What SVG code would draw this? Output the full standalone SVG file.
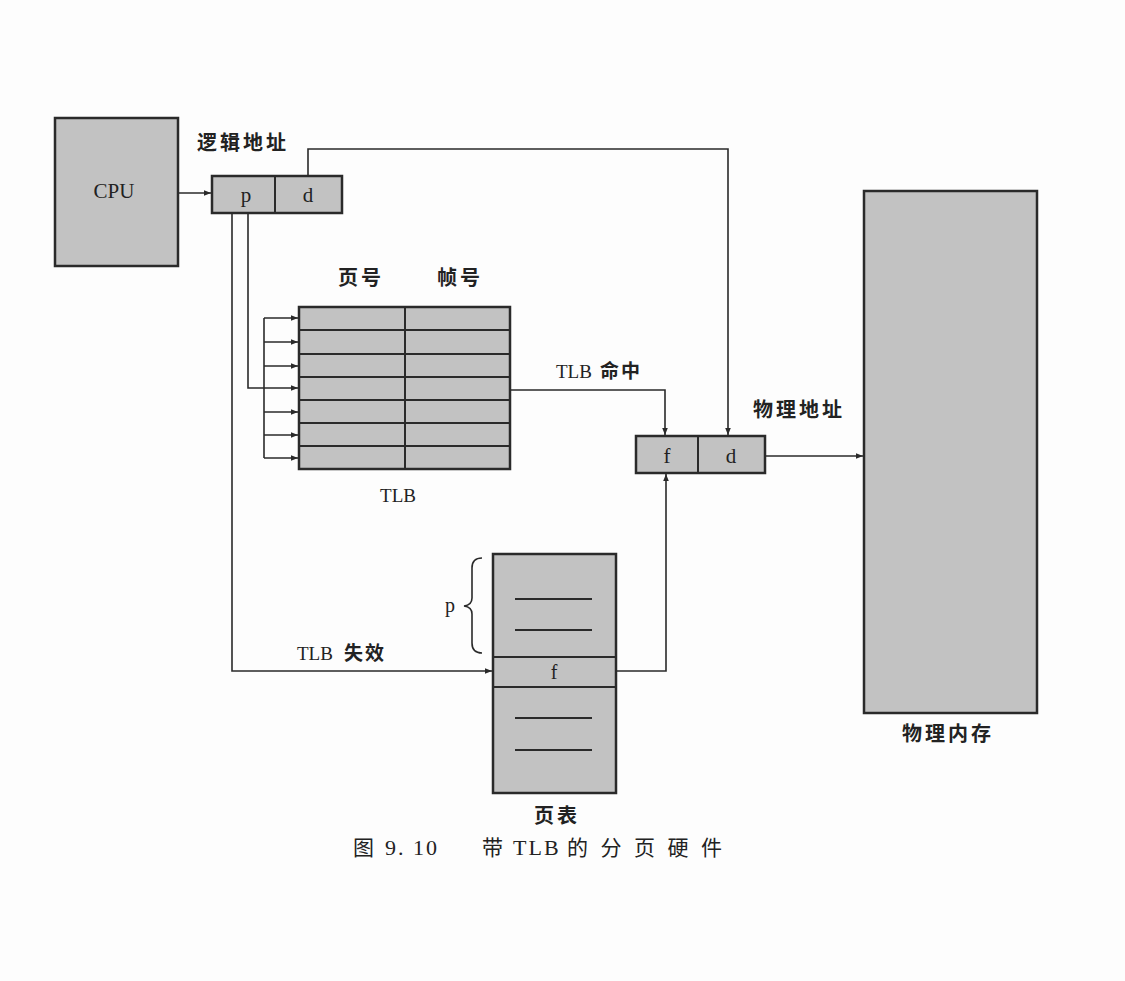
<svg xmlns="http://www.w3.org/2000/svg" width="1125" height="981" viewBox="0 0 1125 981">
<defs>
<style>
.box{fill:#c2c2c2;stroke:#2a2a2a;stroke-width:2.5}
.ln{fill:none;stroke:#2a2a2a;stroke-width:1.6}
.row{stroke:#2a2a2a;stroke-width:2}
.dash{stroke:#2a2a2a;stroke-width:2}
.t{font-family:"Liberation Serif","Noto Sans CJK SC",serif;fill:#222}
.z{font-family:"Noto Sans CJK SC","Liberation Serif",sans-serif;fill:#222;font-weight:bold;font-size:20px;letter-spacing:3px}
.c{font-family:"Noto Sans CJK SC","Liberation Serif",sans-serif;fill:#222;font-size:21px}
</style>
<marker id="ah" viewBox="0 0 10 10" refX="10" refY="5" markerWidth="9" markerHeight="7" markerUnits="userSpaceOnUse" orient="auto">
<path d="M0,1 L10,5 L0,9 z" fill="#2a2a2a"/>
</marker>
</defs>
<rect width="1125" height="981" fill="#fdfdfd"/>

<g id="cpu">
<rect class="box" x="55" y="118" width="123" height="148"/>
<text class="t" x="114" y="198" font-size="21" text-anchor="middle">CPU</text>
</g>

<g id="logical-address">
<text class="z" x="197" y="150">逻辑地址</text>
<rect class="box" x="212" y="176" width="130" height="37"/>
<line class="row" x1="275" y1="176" x2="275" y2="213"/>
<text class="t" x="246" y="202" font-size="21" text-anchor="middle">p</text>
<text class="t" x="308" y="202" font-size="21" text-anchor="middle">d</text>
</g>

<g id="tlb">
<text class="z" x="338" y="285">页号</text>
<text class="z" x="437" y="285">帧号</text>
<rect class="box" x="299" y="307" width="211" height="162"/>
<line class="row" x1="405" y1="307" x2="405" y2="469"/>
<line class="row" x1="299" y1="330" x2="510" y2="330"/>
<line class="row" x1="299" y1="354" x2="510" y2="354"/>
<line class="row" x1="299" y1="377" x2="510" y2="377"/>
<line class="row" x1="299" y1="400" x2="510" y2="400"/>
<line class="row" x1="299" y1="423" x2="510" y2="423"/>
<line class="row" x1="299" y1="446" x2="510" y2="446"/>
<text class="t" x="398" y="502" font-size="19" text-anchor="middle">TLB</text>
</g>

<g id="physical-address">
<text class="z" x="753" y="417">物理地址</text>
<rect class="box" x="636" y="436" width="129" height="37"/>
<line class="row" x1="698" y1="436" x2="698" y2="473"/>
<text class="t" x="667" y="463" font-size="21" text-anchor="middle">f</text>
<text class="t" x="731" y="463" font-size="21" text-anchor="middle">d</text>
</g>

<g id="page-table">
<rect class="box" x="493" y="554" width="123" height="239"/>
<line class="row" x1="493" y1="657" x2="616" y2="657"/>
<line class="row" x1="493" y1="687" x2="616" y2="687"/>
<line class="dash" x1="515" y1="599" x2="592" y2="599"/>
<line class="dash" x1="515" y1="630" x2="592" y2="630"/>
<line class="dash" x1="515" y1="718" x2="592" y2="718"/>
<line class="dash" x1="515" y1="750" x2="592" y2="750"/>
<text class="t" x="554" y="679" font-size="20" text-anchor="middle">f</text>
<path class="ln" d="M482,558 Q472,558 472,568 L472,598 Q472,605 464,606 Q472,607 472,614 L472,643 Q472,653 482,653"/>
<text class="t" x="450" y="612" font-size="20" text-anchor="middle">p</text>
<text class="z" x="534" y="823">页表</text>
</g>

<g id="physical-memory">
<rect class="box" x="864" y="191" width="173" height="522"/>
<text class="z" x="902" y="741">物理内存</text>
</g>

<g id="connectors">
<line class="ln" x1="178" y1="193" x2="211" y2="193" marker-end="url(#ah)"/>
<polyline class="ln" points="308,176 308,149 728,149 728,435" marker-end="url(#ah)"/>
<polyline class="ln" points="232,213 232,671 492,671" marker-end="url(#ah)"/>
<polyline class="ln" points="248,213 248,388 264,388"/>
<line class="ln" x1="264" y1="318" x2="264" y2="458"/>
<line class="ln" x1="264" y1="318" x2="298" y2="318" marker-end="url(#ah)"/>
<line class="ln" x1="264" y1="342" x2="298" y2="342" marker-end="url(#ah)"/>
<line class="ln" x1="264" y1="366" x2="298" y2="366" marker-end="url(#ah)"/>
<line class="ln" x1="264" y1="388" x2="298" y2="388" marker-end="url(#ah)"/>
<line class="ln" x1="264" y1="412" x2="298" y2="412" marker-end="url(#ah)"/>
<line class="ln" x1="264" y1="435" x2="298" y2="435" marker-end="url(#ah)"/>
<line class="ln" x1="264" y1="458" x2="298" y2="458" marker-end="url(#ah)"/>
<polyline class="ln" points="510,390 665,390 665,435" marker-end="url(#ah)"/>
<polyline class="ln" points="616,671 666,671 666,474" marker-end="url(#ah)"/>
<line class="ln" x1="765" y1="456" x2="863" y2="456" marker-end="url(#ah)"/>
<text class="t" x="556" y="378" font-size="19">TLB</text>
<text class="z" x="600" y="378" style="font-size:19px;letter-spacing:2px">命中</text>
<text class="t" x="297" y="660" font-size="19">TLB</text>
<text class="z" x="344" y="660" style="font-size:19px;letter-spacing:2px">失效</text>
</g>

<g id="caption">
<text class="c" x="353" y="855">图</text>
<text class="t" x="385" y="855" font-size="22" letter-spacing="2">9. 10</text>
<text class="c" x="482" y="855">带</text>
<text class="t" x="513" y="855" font-size="22" letter-spacing="2">TLB</text>
<text class="c" x="567" y="855" letter-spacing="12.5">的分页硬件</text>
</g>
</svg>
